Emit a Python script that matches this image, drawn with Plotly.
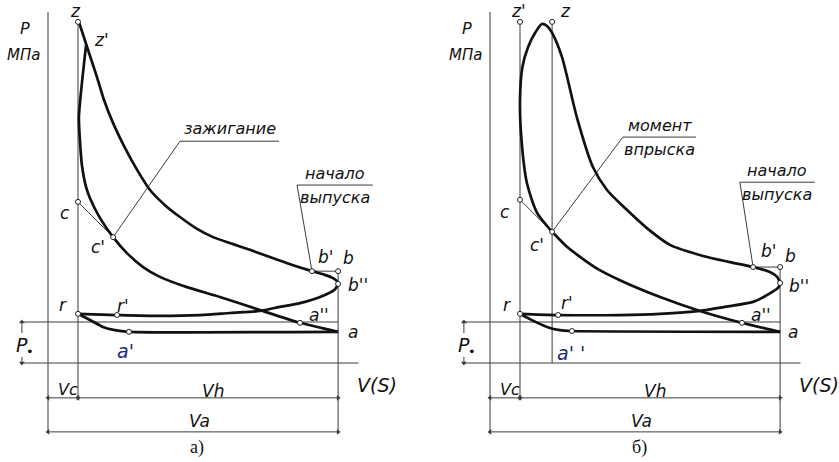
import plotly.graph_objects as go

# ---------------- common quantities (V in units of Vc, P in units of p0) -------------
VC = 1.0
VA = 9.67
P0 = 1.0

# ---------------- diagram а) : spark ignition engine ----------------
A_EXP_V = [1.03, 1.27, 1.63, 1.87, 2.17, 2.57, 2.97, 3.4, 3.9, 4.4, 4.97, 5.5, 6.17, 6.73, 7.3, 8.07, 8.8, 9.23, 9.5, 9.63, 9.67]
A_EXP_P = [8.32, 7.78, 6.98, 6.41, 5.85, 5.24, 4.71, 4.22, 3.85, 3.56, 3.27, 3.07, 2.90, 2.76, 2.61, 2.41, 2.24, 2.15, 2.07, 2.0, 1.93]
A_EXH_V = [9.67, 9.57, 9.07, 8.4, 7.73, 7.07, 6.07, 5.07, 3.73, 2.3, 1.0]
A_EXH_P = [1.93, 1.80, 1.61, 1.46, 1.37, 1.27, 1.22, 1.17, 1.15, 1.17, 1.2]
A_INT_V = [1.0, 1.4, 1.83, 2.23, 2.7, 9.67]
A_INT_P = [1.2, 1.05, 0.88, 0.80, 0.76, 0.76]
A_CMP_V = [9.67, 8.4, 7.07, 5.73, 4.63, 3.73, 3.17, 2.63, 2.17, 1.73, 1.4, 1.27, 1.13, 1.07, 1.03, 1.27]
A_CMP_P = [0.76, 0.98, 1.29, 1.61, 1.85, 2.10, 2.34, 2.68, 3.07, 3.54, 4.02, 4.29, 4.83, 5.37, 6.0, 7.76]
A_PT_NAMES = ["z", "z'", "c", "c'", "b", "b'", "b''", "r", "r'", "a''", "a", "a'"]
A_PT_V = [1.0, 1.27, 1.0, 2.17, 9.67, 8.8, 9.67, 1.0, 2.3, 8.4, 9.67, 2.7]
A_PT_P = [8.32, 7.73, 3.93, 3.07, 2.24, 2.24, 1.93, 1.2, 1.17, 0.98, 0.76, 0.76]
A_NOTE1 = ["зажигание"]
A_NOTE1_V = [2.17, 4.4, 7.7]
A_NOTE1_P = [3.07, 5.41, 5.41]
A_NOTE2 = ["начало", "выпуска"]
A_NOTE2_V = [8.8, 8.3, 10.83]
A_NOTE2_P = [2.24, 4.34, 4.34]

# ---------------- diagram б) : diesel engine ----------------
B_CMB_V = [2.07, 1.57, 1.23, 1.05, 1.0, 1.08, 1.27, 1.5, 1.73, 1.9, 2.07, 2.4, 2.9, 3.43, 3.9, 4.57, 5.23, 6.0, 7.1, 8.0, 8.77, 9.33, 9.57, 9.67]
B_CMB_P = [3.2, 3.66, 4.39, 5.44, 6.41, 7.22, 7.71, 8.05, 8.27, 8.22, 8.05, 7.46, 5.98, 4.78, 4.22, 3.73, 3.29, 2.88, 2.61, 2.46, 2.34, 2.22, 2.1, 1.95]
B_EXH_V = [9.67, 9.6, 9.17, 8.77, 7.83, 7.0, 5.67, 4.33, 2.27, 1.0]
B_EXH_P = [1.95, 1.83, 1.63, 1.49, 1.37, 1.27, 1.2, 1.17, 1.17, 1.2]
B_INT_V = [1.0, 1.33, 1.9, 2.33, 2.73, 9.67]
B_INT_P = [1.2, 1.07, 0.88, 0.80, 0.78, 0.76]
B_CMP_V = [9.67, 8.4, 7.0, 5.67, 4.33, 3.6, 3.0, 2.5, 2.07]
B_CMP_P = [0.76, 0.98, 1.27, 1.61, 2.02, 2.29, 2.59, 2.88, 3.2]
B_PT_NAMES = ["z'", "z", "c", "c'", "b", "b'", "b''", "r", "r'", "a''", "a", "a' '"]
B_PT_V = [1.0, 2.07, 1.0, 2.07, 9.67, 8.77, 9.67, 1.0, 2.27, 8.4, 9.67, 2.73]
B_PT_P = [8.32, 8.32, 3.98, 3.2, 2.34, 2.34, 1.95, 1.2, 1.17, 0.98, 0.76, 0.78]
B_NOTE1 = ["момент", "впрыска"]
B_NOTE1_V = [2.07, 4.43, 6.87]
B_NOTE1_P = [3.2, 5.51, 5.51]
B_NOTE2 = ["начало", "выпуска"]
B_NOTE2_V = [8.77, 8.33, 10.83]
B_NOTE2_P = [2.34, 4.41, 4.41]

AXIS_LABELS = ["P", "МПа", "V(S)", "Vc", "Vh", "Va"]
CAPTIONS = ["а)", "б)"]

# ---------------- styling ----------------
THICK = dict(color="#111111", width=2.7)
THIN = dict(color="#3c3c3c", width=1)
FAM = "DejaVu Sans, Liberation Sans, sans-serif"
LBL_FONT = dict(family=FAM, size=17, color="#111111", style="italic")
NOTE_FONT = dict(family=FAM, size=16, color="#111111", style="italic")
CAP_FONT = dict(family="Liberation Serif, Times New Roman, serif", size=18, color="#111111")

# label offsets in pixels (dx, dy) relative to the marked point
A_SHIFT = {"z": (-3, 11), "z'": (15, 6), "c": (-13, -11), "c'": (-15, -10), "b": (10, 13),
           "b'": (13, 14), "b''": (20, -1), "r": (-15, 9), "r'": (6, 9), "a''": (19, 8),
           "a": (15, 0), "a'": (-4, -19)}
B_SHIFT = {"z'": (-2, 11), "z": (13, 11), "c": (-15, -12), "c'": (-15, -13), "b": (10, 11),
           "b'": (15, 16), "b''": (19, -3), "r": (-13, 9), "r'": (9, 12), "a''": (19, 8),
           "a": (13, 0), "a' '": (-1, -22)}

P_TOP = 8.56      # top end of the pressure axis
P_DIM1 = -0.85    # Vc / Vh dimension line
P_DIM2 = -1.68    # Va dimension line
V_LEXT = -0.93    # left end of the horizontal lines
V_REXT = 10.35    # right end of the base line
V_P0DIM = -0.87   # p0 dimension line

fig = go.Figure()
ann = []


def line(xs, ys, xa, style, shape="linear", smooth=None):
    kw = dict(x=xs, y=ys, mode="lines", line=dict(**style), xaxis=xa, yaxis="y",
              hoverinfo="skip", showlegend=False)
    if shape == "spline":
        kw["line"]["shape"] = "spline"
        kw["line"]["smoothing"] = smooth if smooth is not None else 0.8
    fig.add_trace(go.Scatter(**kw))


def text(t, x, y, xa, font, dx=0, dy=0, xanchor="center"):
    ann.append(dict(text=t, x=x, y=y, xref=xa, yref="y", showarrow=False, font=font,
                    xshift=dx, yshift=dy, xanchor=xanchor, yanchor="middle"))


def diagram(xa, curves, pts, shifts, zline, p_b, notes, caption):
    # frame / construction lines
    line([0, 0], [P_TOP, P_DIM2], xa, THIN)                       # P axis
    line([VC, VC], [pts["top"], P_DIM1], xa, THIN)                 # Vc line
    if zline is not None:
        line([zline, zline], [pts["top"], 0], xa, THIN)           # z line (diesel)
    line([VA, VA], [p_b, P_DIM2], xa, THIN)                        # BDC line
    line([V_LEXT, VA], [P0, P0], xa, THIN)                         # atmosphere
    line([V_LEXT, V_REXT], [0, 0], xa, THIN)                       # base line
    line([pts["bprime"], VA], [p_b, p_b], xa, THIN)                # b' - b
    line([pts["c"][0], pts["cp"][0]], [pts["c"][1], pts["cp"][1]], xa, THIN)  # c - c'
    # dimension lines
    line([0, VA], [P_DIM1, P_DIM1], xa, THIN)
    line([0, VA], [P_DIM2, P_DIM2], xa, THIN)
    fig.add_trace(go.Scatter(x=[0, VC, VC, VA, 0, VA], y=[P_DIM1] * 4 + [P_DIM2] * 2,
                             mode="markers", xaxis=xa, yaxis="y", hoverinfo="skip", showlegend=False,
                             marker=dict(symbol=["triangle-left", "triangle-right", "triangle-left",
                                                 "triangle-right", "triangle-left", "triangle-right"],
                                         size=5, color="#3c3c3c", line=dict(width=0))))
    line([V_P0DIM, V_P0DIM], [P0, 0.73], xa, THIN)
    line([V_P0DIM, V_P0DIM], [0.15, 0], xa, THIN)
    fig.add_trace(go.Scatter(x=[V_P0DIM, V_P0DIM], y=[P0, 0], mode="markers", xaxis=xa, yaxis="y",
                             hoverinfo="skip", showlegend=False,
                             marker=dict(symbol=["triangle-up", "triangle-down"], size=5, color="#3c3c3c")))
    # leader lines of the notes
    for (nv, np_, words) in notes:
        line(nv, np_, xa, THIN)
    # cycle curves
    for (cv, cp, smooth) in curves:
        line(cv, cp, xa, THICK, shape="spline", smooth=smooth)
    # marked points
    names, pv, pp, marked = pts["names"], pts["v"], pts["p"], pts["marked"]
    fig.add_trace(go.Scatter(x=[v for v, n in zip(pv, names) if n in marked],
                             y=[p for p, n in zip(pp, names) if n in marked],
                             mode="markers", xaxis=xa, yaxis="y", hoverinfo="skip", showlegend=False,
                             marker=dict(symbol="circle", size=5, color="white",
                                         line=dict(color="#222222", width=1))))
    for n, v, p in zip(names, pv, pp):
        dx, dy = shifts[n]
        f = dict(LBL_FONT)
        if n.startswith("a'") and "''" not in n:
            f["color"] = "#1f2a80"
            f["size"] = 19
        text(n, v, p, xa, f, dx, dy)
    # axis texts
    text(AXIS_LABELS[0], -0.77, 8.17, xa, dict(LBL_FONT, size=16))
    text(AXIS_LABELS[1], -0.83, 7.51, xa, dict(LBL_FONT, size=15))
    text(AXIS_LABELS[2], 10.97, -0.54, xa, dict(LBL_FONT, size=19))
    text(AXIS_LABELS[3], 0.67, -0.64, xa, dict(LBL_FONT, size=16))
    text(AXIS_LABELS[4], 5.5, -0.69, xa, dict(LBL_FONT, size=17))
    text(AXIS_LABELS[5], 5.05, -1.42, xa, dict(LBL_FONT, size=17))
    text("P", V_P0DIM, 0.44, xa, dict(LBL_FONT, size=19))
    text("•", V_P0DIM + 0.28, 0.27, xa, dict(LBL_FONT, size=13, style="normal"))
    text(caption, 4.97, -2.07, xa, CAP_FONT)
    # note words
    for (nv, np_, words) in notes:
        xm = (nv[1] + nv[2]) / 2
        if len(words) == 1:
            text(words[0], xm, np_[1], xa, NOTE_FONT, 0, 13)
        else:
            text(words[0], xm, np_[1], xa, NOTE_FONT, 0, 12)
            text(words[1], xm, np_[1], xa, NOTE_FONT, 0, -12)


diagram("x",
        [(A_EXP_V, A_EXP_P, 0.7), (A_EXH_V, A_EXH_P, 0.8), (A_INT_V, A_INT_P, 0.6), (A_CMP_V, A_CMP_P, 0.6)],
        dict(names=A_PT_NAMES, v=A_PT_V, p=A_PT_P, top=A_PT_P[0], bprime=A_PT_V[5],
             c=(A_PT_V[2], A_PT_P[2]), cp=(A_PT_V[3], A_PT_P[3]),
             marked={"z", "c", "c'", "b", "b'", "b''", "r", "r'", "a''", "a'"}),
        A_SHIFT, None, A_PT_P[4],
        [(A_NOTE1_V, A_NOTE1_P, A_NOTE1), (A_NOTE2_V, A_NOTE2_P, A_NOTE2)], CAPTIONS[0])

diagram("x2",
        [(B_CMB_V, B_CMB_P, 0.7), (B_EXH_V, B_EXH_P, 0.8), (B_INT_V, B_INT_P, 0.6), (B_CMP_V, B_CMP_P, 0.6)],
        dict(names=B_PT_NAMES, v=B_PT_V, p=B_PT_P, top=B_PT_P[0], bprime=B_PT_V[5],
             c=(B_PT_V[2], B_PT_P[2]), cp=(B_PT_V[3], B_PT_P[3]),
             marked={"z'", "z", "c", "c'", "b", "b'", "b''", "r", "r'", "a''", "a' '"}),
        B_SHIFT, B_PT_V[1], B_PT_P[4],
        [(B_NOTE1_V, B_NOTE1_P, B_NOTE1), (B_NOTE2_V, B_NOTE2_P, B_NOTE2)], CAPTIONS[1])

W, H = 839, 462
SCALE_V = 30.0   # px per Vc unit
SCALE_P = 41.0   # px per p0 unit
fig.update_layout(
    width=W, height=H, margin=dict(l=0, r=0, t=0, b=0),
    paper_bgcolor="white", plot_bgcolor="white", showlegend=False,
    annotations=ann,
    xaxis=dict(domain=[0, 0.5], range=[-48 / SCALE_V, (W / 2 - 48) / SCALE_V], visible=False, anchor="y"),
    xaxis2=dict(domain=[0.5, 1], range=[-(490 - W / 2) / SCALE_V, (W - 490) / SCALE_V], visible=False, anchor="y"),
    yaxis=dict(domain=[0, 1], range=[-(H - 363) / SCALE_P, 363 / SCALE_P], visible=False),
)
fig.write_html("out.html")
